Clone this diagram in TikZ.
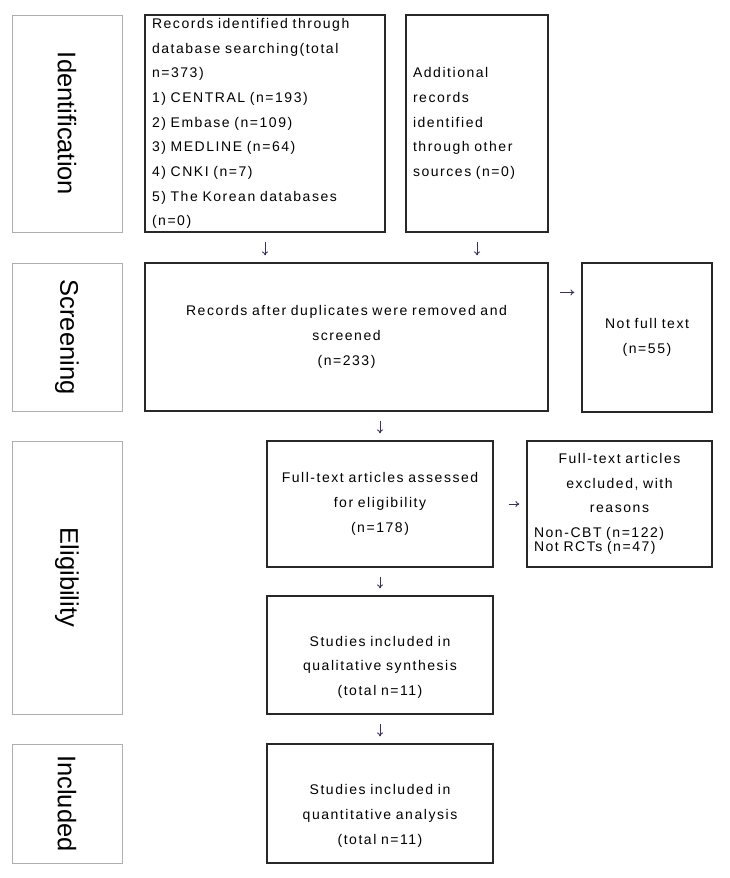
\documentclass[tikz,border=0pt]{standalone}
\usepackage{fontspec}
\usepackage{graphicx}
\setmainfont[LetterSpace=11]{Liberation Sans}
\newfontfamily\stagefont{Liberation Sans}
\usetikzlibrary{arrows.meta}
\definecolor{stageline}{RGB}{175,175,175}
\definecolor{boxline}{RGB}{40,40,40}
\definecolor{arrowink}{RGB}{60,45,100}

\begin{document}
\begin{tikzpicture}[x=1pt,y=-1pt,
    stagebox/.style={draw=stageline,line width=1pt,inner sep=0pt,minimum width=110pt},
    flowbox/.style={draw=boxline,line width=1.2pt,inner sep=7pt,align=center,
      font=\fontsize{14}{24.7}\selectfont},
    flowarrow/.style={draw=arrowink,line width=0.9pt,-{To[length=4pt,width=6pt]},
      shorten <=9pt,shorten >=7pt}]
  \useasboundingbox (0,0) rectangle (730,878);

  % stage column
  \node[stagebox,minimum height=217pt] (ident) at (67,123.5)
    {\rotatebox{-90}{\stagefont\fontsize{25.5}{30}\selectfont Identification}};
  \node[stagebox,minimum height=148pt] (screen) at (67,337)
    {\rotatebox{-90}{\stagefont\fontsize{25.5}{30}\selectfont Screening}};
  \node[stagebox,minimum height=273pt] (elig) at (67,577.5)
    {\rotatebox{-90}{\stagefont\fontsize{25.5}{30}\selectfont Eligibility}};
  \node[stagebox,minimum height=119pt] (incl) at (67,803.5)
    {\rotatebox{-90}{\stagefont\fontsize{25.5}{30}\selectfont Included}};

  % identification
  \node[flowbox,minimum width=240pt,minimum height=217pt,text width=226pt,align=left,
    inner ysep=2pt] (records) at (265,123.5)
    {Records identified through\\database searching(total\\n=373)\\
     1) CENTRAL (n=193)\\2) Embase (n=109)\\3) MEDLINE (n=64)\\
     4) CNKI (n=7)\\5) The Korean databases\\(n=0)};
  \node[flowbox,minimum width=142pt,minimum height=217pt,text width=128pt,align=left]
    (additional) at (477,123.5)
    {Additional\\records\\identified\\through other\\sources (n=0)};

  % screening
  \node[flowbox,minimum width=403pt,minimum height=148pt,text width=389pt]
    (screened) at (346.5,337)
    {Records after duplicates were removed and\\screened\\(n=233)};
  \node[flowbox,minimum width=130pt,minimum height=149pt,text width=116pt]
    (notfull) at (647,337.5)
    {Not full text\\(n=55)};

  % eligibility
  \node[flowbox,minimum width=226pt,minimum height=126pt,text width=212pt]
    (fulltext) at (380,504)
    {Full-text articles assessed\\for eligibility\\(n=178)};
  \node[flowbox,minimum width=185pt,minimum height=126pt,text width=171pt]
    (excluded) at (619.5,504)
    {Full-text articles\\excluded, with\\reasons\\
     \makebox[171pt][l]{Non-CBT (n=122)}\\[-10.7pt]
     \makebox[171pt][l]{Not RCTs (n=47)}};
  \node[flowbox,minimum width=226pt,minimum height=118pt,text width=212pt]
    (qualitative) at (380,655)
    {\vphantom{(S}\\Studies included in\\qualitative synthesis\\(total n=11)};

  % included
  \node[flowbox,minimum width=226pt,minimum height=119pt,text width=212pt]
    (quantitative) at (380,803.5)
    {\vphantom{(S}\\Studies included in\\quantitative analysis\\(total n=11)};

  % arrows
  \draw[flowarrow] (records.south) -- (records.south |- screened.north);
  \draw[flowarrow] (additional.south) -- (additional.south |- screened.north);
  \draw[flowarrow,shorten <=11pt] ([yshift=-30pt]screened.north east)
    -- ([yshift=-30pt]screened.north east -| notfull.west);
  \draw[flowarrow] (fulltext.north |- screened.south) -- (fulltext.north);
  \draw[flowarrow,shorten <=15pt] (fulltext.east) -- (excluded.west);
  \draw[flowarrow] (fulltext.south) -- (qualitative.north);
  \draw[flowarrow] (qualitative.south) -- (quantitative.north);
\end{tikzpicture}
\end{document}
